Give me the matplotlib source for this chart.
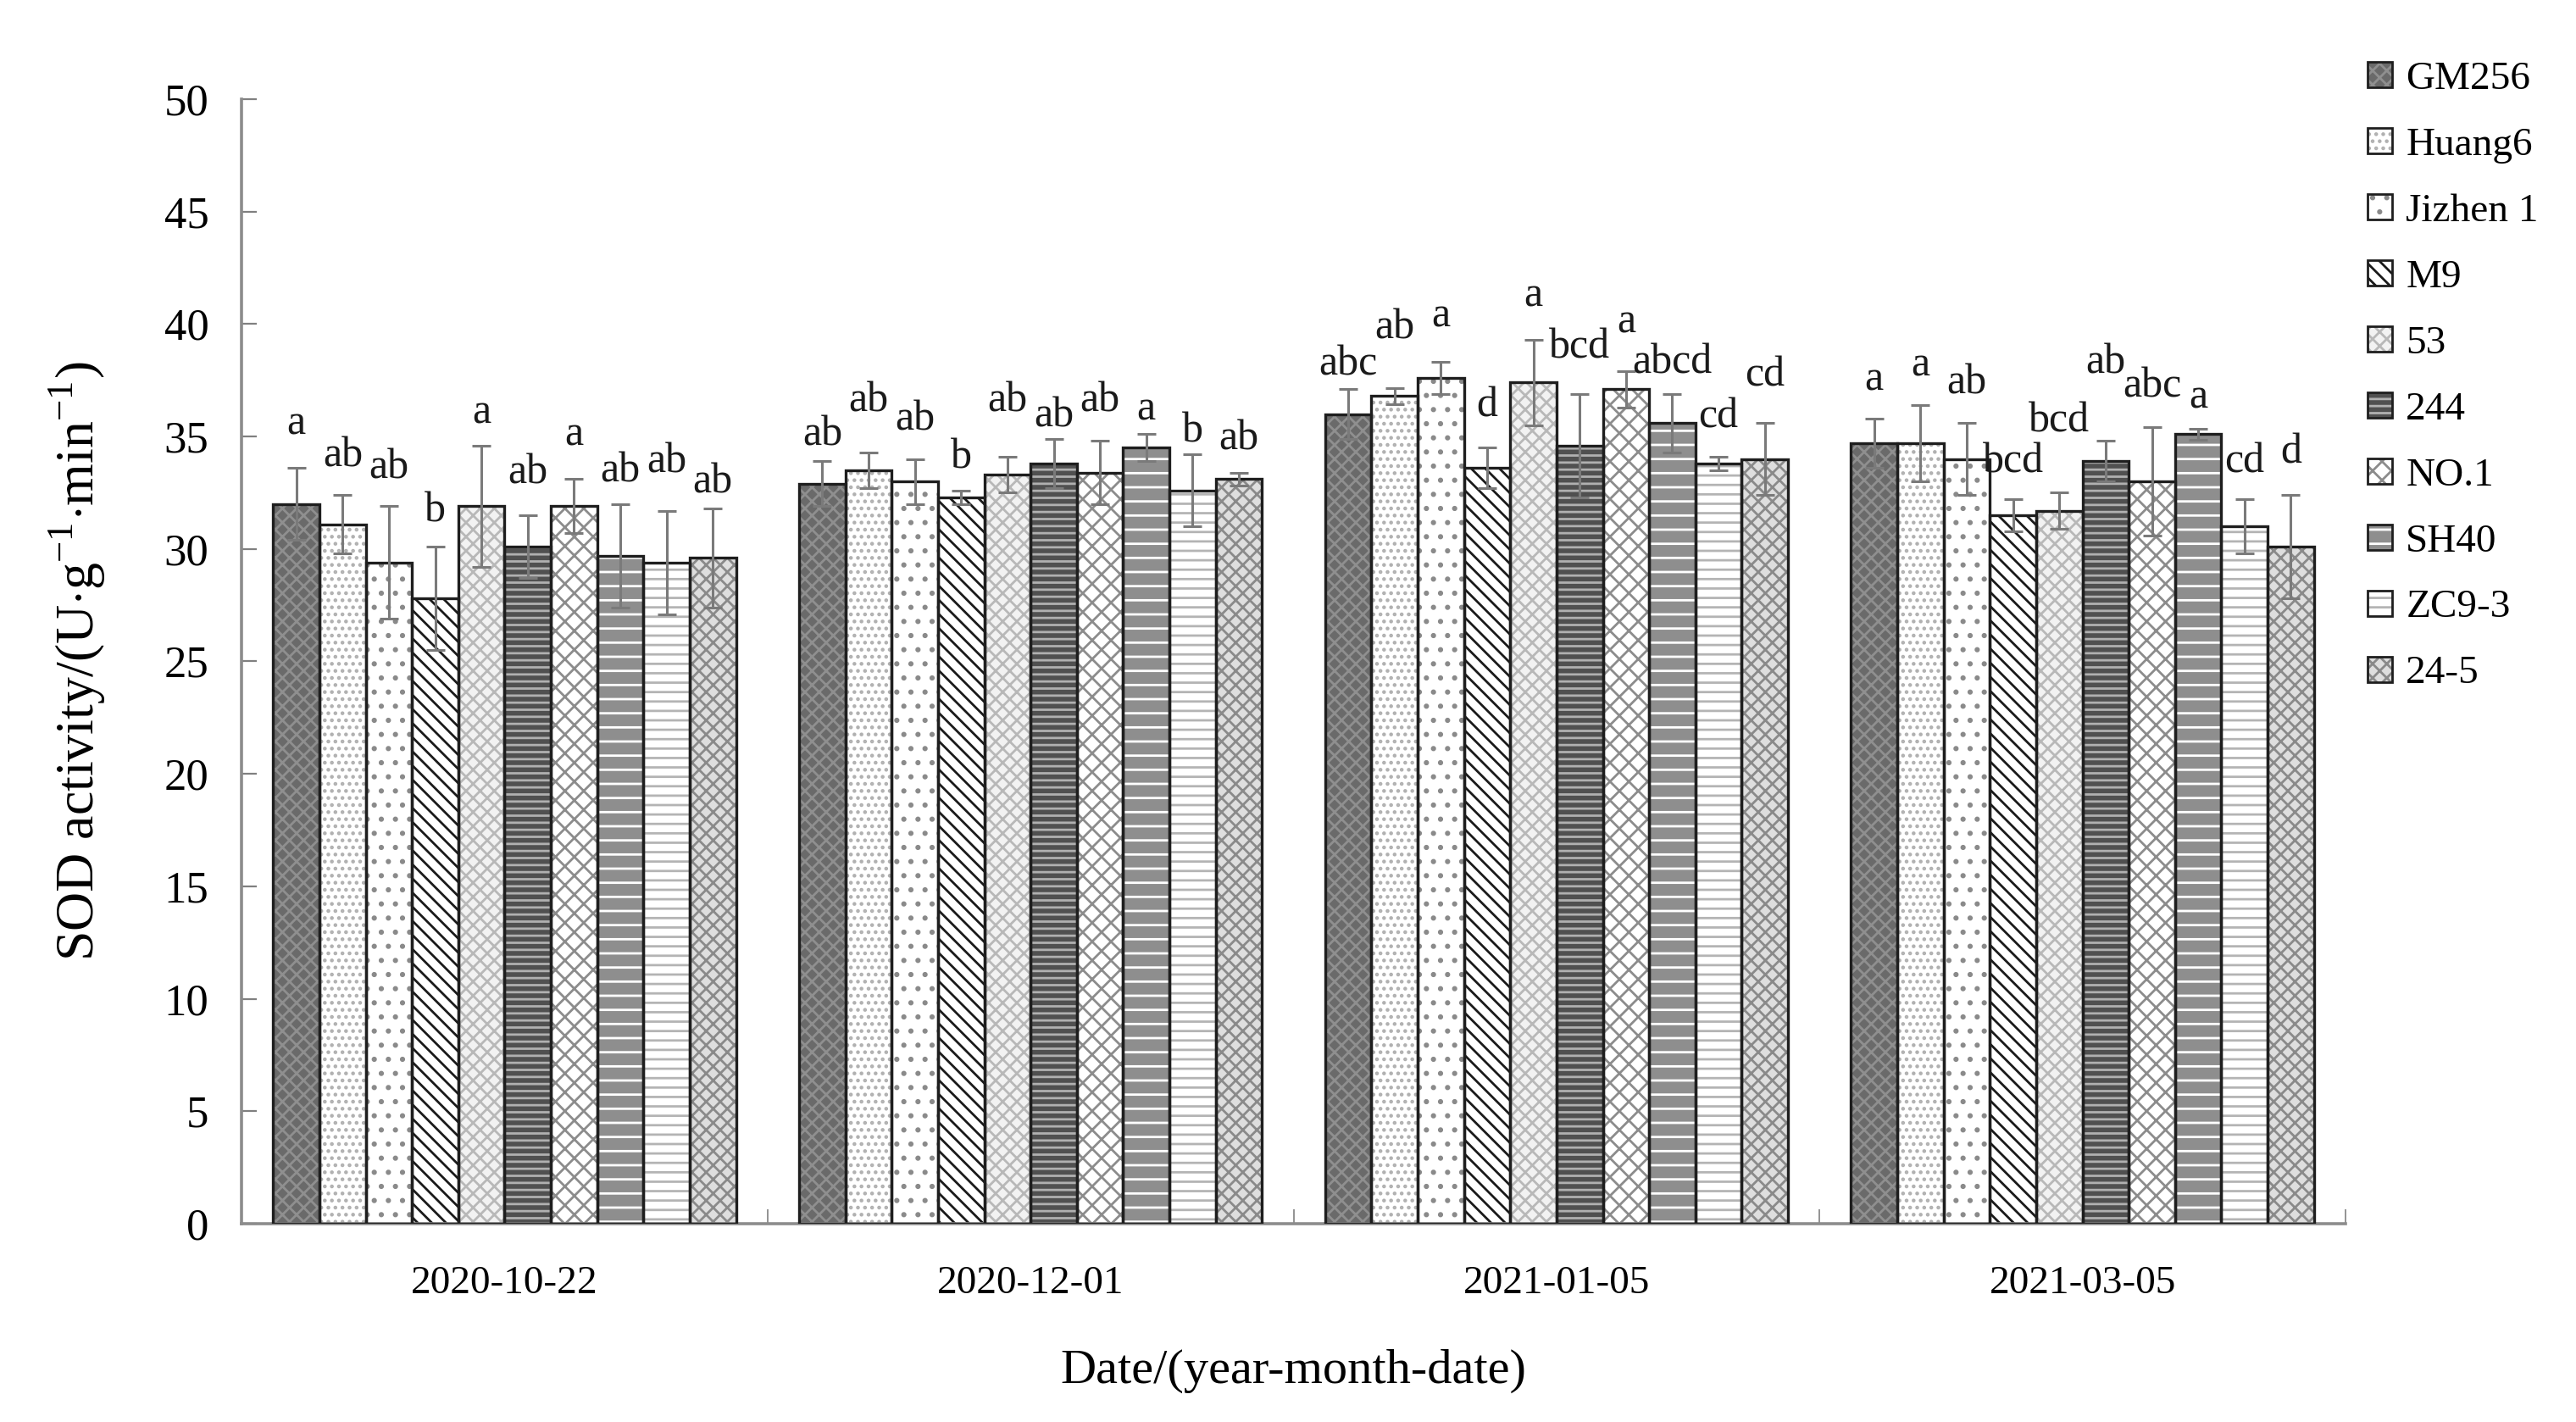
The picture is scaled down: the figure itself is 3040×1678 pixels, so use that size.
import matplotlib
matplotlib.use("Agg")
import matplotlib.pyplot as plt
from matplotlib.patches import Patch
from matplotlib.legend_handler import HandlerTuple
import numpy as np

plt.rcParams['font.family'] = ['Liberation Serif', 'DejaVu Serif']
plt.rcParams['mathtext.fontset'] = 'custom'
plt.rcParams['mathtext.rm'] = 'Liberation Serif'
plt.rcParams['hatch.linewidth'] = 1.0

dates = ['2020-10-22', '2020-12-01', '2021-01-05', '2021-03-05']
cultivars = ['GM256', 'Huang6', 'Jizhen 1', 'M9', '53', '244', 'NO.1', 'SH40', 'ZC9-3', '24-5']

# mean SOD activity per cultivar, one list per date
sod_1022 = [32.0, 31.1, 29.4, 27.8, 31.9, 30.1, 31.9, 29.7, 29.4, 29.6]
sod_1201 = [32.9, 33.5, 33.0, 32.3, 33.3, 33.8, 33.4, 34.5, 32.6, 33.1]
sod_0105 = [36.0, 36.8, 37.6, 33.6, 37.4, 34.6, 37.1, 35.6, 33.8, 34.0]
sod_0305 = [34.7, 34.7, 34.0, 31.5, 31.7, 33.9, 33.0, 35.1, 31.0, 30.1]

err_1022 = [1.6, 1.3, 2.5, 2.3, 2.7, 1.4, 1.2, 2.3, 2.3, 2.2]
err_1201 = [1.0, 0.8, 1.0, 0.3, 0.8, 1.1, 1.4, 0.6, 1.6, 0.3]
err_0105 = [1.1, 0.35, 0.7, 0.9, 1.9, 2.3, 0.8, 1.3, 0.3, 1.6]
err_0305 = [1.1, 1.7, 1.6, 0.7, 0.8, 0.9, 2.4, 0.25, 1.2, 2.3]

let_1022 = ['a', 'ab', 'ab', 'b', 'a', 'ab', 'a', 'ab', 'ab', 'ab']
let_1201 = ['ab', 'ab', 'ab', 'b', 'ab', 'ab', 'ab', 'a', 'b', 'ab']
let_0105 = ['abc', 'ab', 'a', 'd', 'a', 'bcd', 'a', 'abcd', 'cd', 'cd']
let_0305 = ['a', 'a', 'ab', 'bcd', 'bcd', 'ab', 'abc', 'a', 'cd', 'd']

means = np.array([sod_1022, sod_1201, sod_0105, sod_0305])
errs = np.array([err_1022, err_1201, err_0105, err_0305])
letters = [let_1022, let_1201, let_0105, let_0305]

# layout only: gap between error bar top and letter baseline (staggered like the original)
letter_gap = [
    [1.5, 1.25, 1.25, 1.1, 1.0, 1.4, 1.5, 1.0, 1.7, 0.7],
    [0.7, 1.8, 1.3, 1.0, 2.0, 0.55, 1.3, 0.65, 0.55, 1.0],
    [0.65, 2.2, 1.6, 1.4, 1.5, 1.6, 1.7, 0.9, 1.3, 1.65],
    [1.25, 1.3, 1.3, 1.2, 2.7, 3.0, 1.35, 0.9, 1.2, 1.4],
]

# (face colour, hatch colour, hatch) for each cultivar
styles = [
    ('#6a6a6a', '#8f8f8f', 'xxxx'),
    ('#ffffff', '#b0b0b0', '....'),
    ('#ffffff', '#8a8a8a', '..'),
    ('#ffffff', '#1a1a1a', '\\\\\\\\'),
    ('#f2f2f2', '#b8b8b8', 'xxxx'),
    ('#505050', '#b0b0b0', '----'),
    ('#ffffff', '#8c8c8c', 'xxx'),
    ('#8e8e8e', '#ffffff', '--'),
    ('#ffffff', '#b4b4b4', '---'),
    ('#dedede', '#8a8a8a', 'xxxx'),
]

fig = plt.figure(figsize=(15.2, 8.39), dpi=200)
ax = fig.add_axes([0.0938, 0.1395, 0.8167, 0.7908])

x = np.arange(len(dates))
n = len(cultivars)
w = 0.88 / n
handles = []
for i, name in enumerate(cultivars):
    fc, hc, h = styles[i]
    pos = x - 0.44 + w * (i + 0.5)
    ax.bar(pos, means[:, i], w, color=fc, edgecolor=hc, hatch=h, linewidth=0, zorder=2)
    ax.bar(pos, means[:, i], w, fill=False, edgecolor='#1e1e1e', linewidth=1.2, zorder=3)
    ax.errorbar(pos, means[:, i], yerr=errs[:, i], fmt='none', ecolor='#7a7a7a',
                elinewidth=1.1, capsize=4, capthick=1.1, zorder=4)
    for j in range(len(dates)):
        ax.text(pos[j], means[j, i] + errs[j, i] + letter_gap[j][i], letters[j][i],
                ha='center', va='baseline', fontsize=18, color='#1a1a1a', zorder=5)
    handles.append((Patch(facecolor=fc, edgecolor=hc, hatch=h, linewidth=0),
                    Patch(fill=False, edgecolor='#1e1e1e', linewidth=1.0)))

ax.set_xlim(-0.5, 3.5)
ax.set_ylim(0, 50)
ax.set_yticks(np.arange(0, 51, 5))
ax.set_xticks(x)
ax.set_xticklabels(dates, fontsize=17)
ax.set_xticks(np.arange(-0.5, 3.6, 1), minor=True)
ax.tick_params(axis='x', which='major', length=0, pad=18)
ax.tick_params(axis='x', which='minor', direction='in', length=6, color='#808080')
ax.tick_params(axis='y', direction='in', length=6.5, color='#808080', labelsize=19, pad=14)

for s in ['top', 'right']:
    ax.spines[s].set_visible(False)
for s in ['left', 'bottom']:
    ax.spines[s].set_color('#8c8c8c')
    ax.spines[s].set_linewidth(1.3)

ax.set_ylabel(r'SOD activity/(U$\cdot$g$^{-1}$$\cdot$min$^{-1}$)', fontsize=23, labelpad=24)
ax.set_xlabel('Date/(year-month-date)', fontsize=21, labelpad=20)

fig.legend(handles, cultivars, loc='upper left', bbox_to_anchor=(0.913, 0.968),
           handler_map={tuple: HandlerTuple(ndivide=1, pad=0)},
           frameon=False, fontsize=17, handlelength=0.6, handleheight=0.6,
           handletextpad=0.35, labelspacing=0.75, borderaxespad=0)

fig.savefig('out.png', dpi=200, facecolor='white')
